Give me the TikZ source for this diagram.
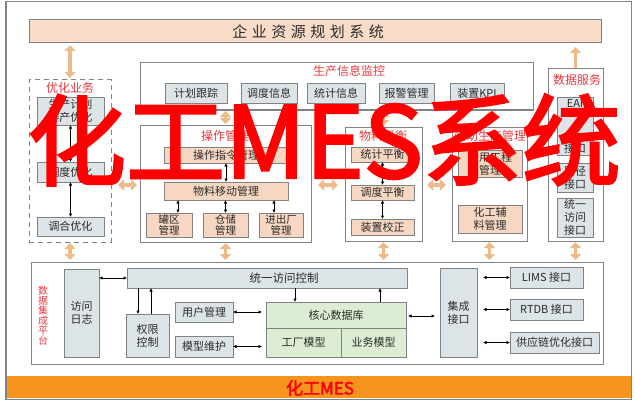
\documentclass[tikz,border=0pt]{standalone}
\usepackage{fontspec}
\setmainfont{Noto Sans CJK SC}[AutoFakeBold=2.5]
\usetikzlibrary{arrows.meta,calc}
\definecolor{bd}{HTML}{7F8386}
\definecolor{grayf}{HTML}{DDE4E8}
\definecolor{peach}{HTML}{F7D7C2}
\definecolor{erpf}{HTML}{F9DCC8}
\definecolor{greenf}{HTML}{DDEDD3}
\definecolor{tan}{HTML}{EDBB8A}
\definecolor{tred}{HTML}{E93A3F}
\definecolor{ovred}{HTML}{FF0000}
\definecolor{band}{HTML}{F7941E}
\definecolor{txt}{HTML}{2B2B2B}
\begin{document}
\begin{tikzpicture}[x=1pt,y=-1pt, font=\fontsize{11}{13}\selectfont,
 every node/.style={inner sep=0pt, outer sep=0pt, align=center, text=txt},
 gbox/.style={draw=bd, fill=grayf, line width=0.9pt},
 pbox/.style={draw=bd, fill=peach, line width=0.9pt},
 grbox/.style={draw=bd, fill=greenf, line width=0.9pt},
 grp/.style={draw=bd, line width=1pt},
 ttl/.style={text=tred, font=\fontsize{12}{14}\selectfont},
 oarr/.style={draw=tan, line width=3.5pt, {Triangle[width=11pt,length=6pt]}-{Triangle[width=11pt,length=6pt]}},
 oup/.style={draw=tan, line width=3.5pt, -{Triangle[width=11pt,length=6pt]}},
 barr/.style={draw=black, line width=0.6pt, {Latex[length=3.5pt,width=3.5pt]}-{Latex[length=3.5pt,width=3.5pt]}},
 bone/.style={draw=black, line width=0.6pt, -{Latex[length=3.5pt,width=3.5pt]}}
]
\useasboundingbox (0,0) rectangle (635,404);
\fill[white] (0,0) rectangle (635,404);
% outer frame and band
\fill[band] (7,376) rectangle (631,398);
\draw[bd, line width=1.2pt] (6,1.5) rectangle (631.5,399.5);
\node[text=ovred, font=\fontsize{17}{17}\selectfont\bfseries] (bandtxt) at (320,388) {化工MES};

% ERP
\node[draw=bd, fill=erpf, line width=1pt, minimum width=572pt, minimum height=23pt] (erp) at (315,31.5) {};
\node[font=\fontsize{15}{15}\selectfont\addfontfeatures{LetterSpace=30}] (erptxt) at (308,32) {企业资源规划系统};

% left optimisation column
\node[draw=bd, dash pattern=on 5pt off 4pt, line width=1pt, minimum width=82pt, minimum height=162pt] (leftcol) at (70,161) {};
\node[ttl] (lt) at (70,88) {优化业务};
\node[gbox, minimum width=67pt, minimum height=28pt] (yh1) at (70.5,111) {生产计划\\排产优化};
\node[gbox, minimum width=67pt, minimum height=20pt] (ddyh) at (70.5,172) {调度优化};
\node[gbox, minimum width=67pt, minimum height=19pt] (thyh) at (70.5,226.5) {调合优化};
\draw[barr] (yh1.south) -- (ddyh.north);
\draw[barr] (ddyh.south) -- (thyh.north);

% production info monitoring
\node[grp, minimum width=393pt, minimum height=47pt] (scxx) at (336.5,86.5) {};
\node[ttl] (st) at (349,71) {生产信息监控};
\node[gbox, minimum width=62pt, minimum height=20pt] (jhgz) at (196,93) {计划跟踪};
\node[gbox, minimum width=56pt, minimum height=20pt] (ddxx) at (269,93) {调度信息};
\node[gbox, minimum width=58pt, minimum height=20pt] (tjxx) at (336,93) {统计信息};
\node[gbox, minimum width=55pt, minimum height=20pt] (bjgl) at (406.5,93) {报警管理};
\node[gbox, minimum width=54pt, minimum height=20pt] (kpi) at (477,93) {装置KPI};

% operation management
\node[grp, minimum width=171pt, minimum height=117pt] (czgl) at (225.5,183.5) {};
\node[ttl] (ct) at (225,136) {操作管理};
\node[pbox, minimum width=124pt, minimum height=16pt] (czzl) at (226,155) {操作指令管理};
\node[pbox, minimum width=124pt, minimum height=18pt] (wlyd) at (226,191) {物料移动管理};
\node[pbox, minimum width=46pt, minimum height=24pt, font=\fontsize{10.5}{11.5}\selectfont] (gq) at (169,225) {罐区\\管理};
\node[pbox, minimum width=45pt, minimum height=24pt, font=\fontsize{10.5}{11.5}\selectfont] (cc) at (225.5,225) {仓储\\管理};
\node[pbox, minimum width=44pt, minimum height=24pt, font=\fontsize{10.5}{11.5}\selectfont] (jcc) at (281,225) {进出厂\\管理};
\draw[barr] (czzl.south) -- (wlyd.north);
\coordinate (a1) at ([xshift=9pt]gq.north);
\coordinate (a2) at (cc.north);
\coordinate (a3) at ([xshift=-7pt]jcc.north);
\draw[barr] (a1 |- wlyd.south) -- (a1);
\draw[barr] (a2 |- wlyd.south) -- (a2);
\draw[barr] (a3 |- wlyd.south) -- (a3);

% material balance
\node[grp, minimum width=77pt, minimum height=114pt] (wlph) at (383.5,184) {};
\node[ttl] (wt) at (383,136) {物料平衡};
\node[pbox, minimum width=63pt, minimum height=15pt] (tjph) at (382.5,154.5) {统计平衡};
\node[pbox, minimum width=63pt, minimum height=15pt] (ddph) at (382.5,192.5) {调度平衡};
\node[pbox, minimum width=63pt, minimum height=16pt] (zzjz) at (382.5,227) {装置校正};
\draw[barr] (tjph.south) -- (ddph.north);
\draw[barr] (ddph.south) -- (zzjz.north);

% fourth group
\node[grp, minimum width=75pt, minimum height=114pt] (fzgl) at (489.5,184) {};
\node[ttl] (ft) at (490,136) {辅助生产管理};
\node[pbox, minimum width=64pt, minimum height=27pt] (gygc) at (490,163.5) {公用工程\\管理};
\node[pbox, minimum width=64pt, minimum height=28pt] (hgfl) at (490,219) {化工辅\\料管理};

% data services
\node[grp, minimum width=55pt, minimum height=172pt] (sjfw) at (575.5,155) {};
\node[ttl] (dt) at (577,80) {数据服务};
\node[gbox, minimum width=36pt, minimum height=58pt] (eai) at (575,126) {EAI\\[32pt]接口};
\node[gbox, minimum width=36pt, minimum height=29pt] (ljjk) at (575,177.5) {路径\\接口};
\node[gbox, minimum width=36pt, minimum height=39pt] (tyjk) at (575,217.5) {统一\\访问\\接口};

% tan arrows, upper part
\draw[oarr, shorten <=2pt, shorten >=2pt] (erp.south -| leftcol) -- (leftcol.north);
\draw[oup, shorten <=1pt, shorten >=4pt] (sjfw.north) -- (sjfw.north |- erp.south);
\draw[oarr, shorten <=1pt, shorten >=1pt] (scxx.south -| czgl) -- (czgl.north);
\draw[oarr, shorten <=1pt, shorten >=1pt] (scxx.south -| wlph) -- (wlph.north);
\draw[oarr, shorten <=1pt, shorten >=1pt] (scxx.south -| fzgl) -- (fzgl.north);
\coordinate (hy) at (0,185);
\draw[oarr, shorten <=7pt, shorten >=3pt] (leftcol.east |- hy) -- (czgl.west |- hy);
\draw[oarr, shorten <=7pt, shorten >=7pt] (czgl.east |- hy) -- (wlph.west |- hy);
\draw[oarr, shorten <=5pt, shorten >=6pt] (wlph.east |- hy) -- (fzgl.west |- hy);

% data integration platform
\node[grp, minimum width=572pt, minimum height=102pt] (pt) at (317,313) {};
\node[text=tred, font=\fontsize{10}{10}\selectfont] (ptt) at (43,316) {数\\据\\集\\成\\平\\台};
\draw[oarr, shorten <=1pt, shorten >=2pt] (leftcol.south) -- (leftcol.south |- pt.north);
\draw[oarr, shorten <=1pt, shorten >=2pt] (czgl.south) -- (czgl.south |- pt.north);
\draw[oarr, shorten <=1pt, shorten >=2pt] (wlph.south) -- (wlph.south |- pt.north);
\draw[oarr, shorten <=1pt, shorten >=2pt] (fzgl.south) -- (fzgl.south |- pt.north);
\draw[oarr, shorten <=1pt, shorten >=2pt] (sjfw.south) -- (sjfw.south |- pt.north);

\node[gbox, minimum width=35pt, minimum height=88pt] (fwrz) at (81.5,313) {访问\\日志};
\node[gbox, minimum width=280pt, minimum height=20pt] (tykz) at (267,278) {};
\node[font=\fontsize{11.5}{13}\selectfont] (tykzt) at (284,278) {统一访问控制};
\node[gbox, minimum width=43pt, minimum height=43pt] (qxkz) at (147.5,335.5) {权限\\控制};
\node[gbox, minimum width=58pt, minimum height=20pt] (yhgl) at (204,312) {用户管理};
\node[gbox, minimum width=58pt, minimum height=21pt] (mxwh) at (204,346.5) {模型维护};
\node[grbox, minimum width=140pt, minimum height=55pt] (hx) at (336,329.5) {};
\coordinate (hl) at (0,328);
\coordinate (vl) at (341,0);
\draw[bd, line width=0.9pt] (hx.west |- hl) -- (hx.east |- hl);
\draw[bd, line width=0.9pt] (vl |- hl) -- (vl |- hx.south);
\node (hxt) at (336,315) {核心数据库};
\node (gcmx) at (303.5,342.5) {工厂模型};
\node (ywmx) at (373.5,342.5) {业务模型};
\node[gbox, minimum width=37pt, minimum height=89pt] (jcjk) at (458.5,312.5) {集成\\接口};
\node[gbox, minimum width=73pt, minimum height=21pt] (lims) at (546.5,277.5) {LIMS 接口};
\node[gbox, minimum width=73pt, minimum height=21pt] (rtdb) at (546.5,309.5) {RTDB 接口};
\node[gbox, minimum width=89pt, minimum height=21pt] (gyl) at (554.5,342.5) {供应链优化接口};

\draw[barr] (fwrz.east |- tykz) -- (tykz.west);
\coordinate (qd) at ([xshift=-9.5pt]qxkz.north);
\coordinate (qu) at ([xshift=3.5pt]qxkz.north);
\draw[bone] (qd |- tykz.south) -- (qd);
\draw[bone] (qu) -- (qu |- tykz.south);
\draw[barr, shorten >=4pt] (yhgl.east) -- (yhgl.east -| hx.west);
\draw[barr, shorten >=4pt] (mxwh.east) -- (mxwh.east -| hx.west);
\coordinate (hd) at ([xshift=-41pt]hx.north);
\coordinate (hu) at ([xshift=44pt]hx.north);
\draw[bone] (hd |- tykz.south) -- (hd);
\draw[bone] (hu) -- (hu |- tykz.south);
\coordinate (hj) at (0,316);
\draw[barr, shorten <=2pt, shorten >=5pt] (hx.east |- hj) -- (jcjk.west |- hj);
\draw[barr, shorten <=6pt] (jcjk.east |- lims) -- (lims.west);
\draw[barr, shorten <=6pt] (jcjk.east |- rtdb) -- (rtdb.west);
\draw[barr, shorten <=6pt] (jcjk.east |- gyl) -- (gyl.west);

% big overlay
\node[text=ovred, font=\fontsize{99}{99}\selectfont\bfseries] (ov) at (324,140) {化工MES系统};
\end{tikzpicture}
\end{document}
